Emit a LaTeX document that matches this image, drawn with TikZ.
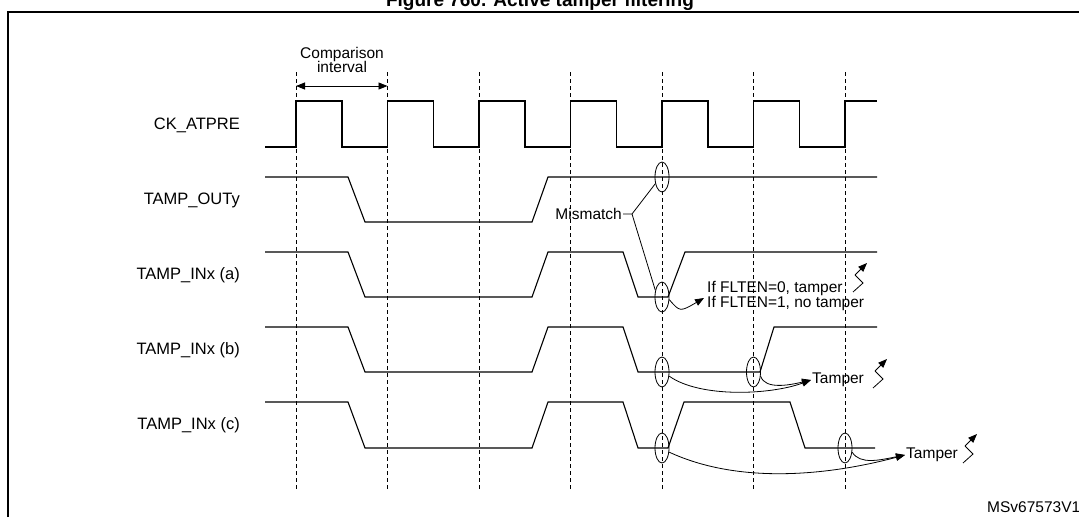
\documentclass[tikz,border=0pt]{standalone}
\usepackage{fontspec}
\setmainfont{Liberation Sans}
\usetikzlibrary{arrows.meta,shapes.geometric}
\begin{document}
\begin{tikzpicture}[x=1pt,y=-1pt,
  sig/.style={line width=1.1pt},
  grid/.style={dashed,line width=0.7pt,dash pattern=on 4pt off 3pt},
  lab/.style={anchor=east,font=\fontsize{16.5}{18}\selectfont,inner sep=0},
  small/.style={font=\fontsize{15.5}{17}\selectfont,inner sep=1pt},
  ell/.style={draw,ellipse,line width=0.8pt,minimum width=14pt,minimum height=30pt,inner sep=0},
  arr/.style={line width=0.8pt,-{Triangle[length=9pt,width=7pt]}},
  zap/.style={line width=0.8pt}]
\useasboundingbox (0,0) rectangle (1079,517);
% frame and title
\node[font=\fontsize{19}{21}\selectfont\bfseries,anchor=base] (title) at (540,6) {Figure 760. Active tamper filtering};
\draw[line width=1.6pt] (8,517) -- (8,12) -- (1079,12);
% grid
\foreach \x in {296,387.5,479,570.5,662,753.5,845}
  \draw[grid] (\x,72) -- (\x,490);
% labels
\node[lab] (l1) at (240,125) {CK\_ATPRE};
\node[lab] (l2) at (240,200) {TAMP\_OUTy};
\node[lab] (l3) at (240,275) {TAMP\_INx (a)};
\node[lab] (l4) at (240,350) {TAMP\_INx (b)};
\node[lab] (l5) at (240,425) {TAMP\_INx (c)};
% comparison interval
\node[small,align=center] (ci) at (342,60) {Comparison\\[-3pt]interval};
\coordinate (c1) at (296,86); \coordinate (c2) at (387.5,86);
\draw[line width=0.8pt,{Triangle[length=9pt,width=7pt]}-{Triangle[length=9pt,width=7pt]}] (c1) -- (c2);
% clock
\draw[sig] (265,147)
 \foreach \x in {296,387.5,479,570.5,662,753.5} { -- (\x,147) -- (\x,101) -- (\x+46,101) -- (\x+46,147) }
 -- (845,147) -- (845,101) -- (877,101);
% TAMP_OUTy
\draw[sig] (265,177) -- (348,177) -- (365,222) -- (532,222) -- (548,177) -- (877,177);
% a
\draw[sig] (265,252) -- (348,252) -- (365,297) -- (532,297) -- (548,252) -- (623,252) -- (638,297) -- (668,297) -- (685,252) -- (877,252);
% b
\draw[sig] (265,327) -- (348,327) -- (365,372) -- (532,372) -- (548,327) -- (623,327) -- (638,372) -- (760,372) -- (774,327) -- (877,327);
% c
\draw[sig] (265,402) -- (348,402) -- (365,448) -- (532,448) -- (548,402) -- (623,402) -- (638,448) -- (668,448) -- (684,402) -- (790,402) -- (805,448) -- (875,448);
% ellipses
\node[ell] (eo) at (662,177) {};
\node[ell] (ea) at (662,297) {};
\node[ell] (eb1) at (662,372) {};
\node[ell] (eb2) at (753.5,372) {};
\node[ell] (ec1) at (662,448) {};
\node[ell] (ec2) at (845,448) {};
% mismatch
\node[small,anchor=east] (mm) at (623,214) {Mismatch};
\coordinate (mj) at (632,214);
\draw[line width=0.8pt] (mm.east) -- (mj) -- (eo.-135);
\draw[line width=0.8pt] (mj) -- (ea.135);
% a result
\node[small,anchor=west,align=left] (ta) at (706,296) {If FLTEN=0, tamper\\[-2pt]If FLTEN=1, no tamper};
\coordinate (taa) at (704,298);
\draw[arr] (ea.-20) .. controls (680,312) .. (taa);
% b result
\node[small,anchor=west] (tb) at (811,380) {Tamper};
\draw[arr] (eb1.-30) .. controls (700,398) and (770,395) .. (tb.west);
\draw[arr] (eb2.-30) .. controls (765,390) and (790,385) .. (tb.west);
% c result
\node[small,anchor=west] (tc) at (905,455) {Tamper};
\draw[arr] (ec1.-30) .. controls (740,485) and (830,475) .. (tc.west);
\draw[arr] (ec2.-30) .. controls (860,465) and (880,460) .. (tc.west);
% lightning symbols
\foreach \px/\py in {853/292, 873/388, 963/463}{
  \draw[zap] (\px,\py) -- (\px+10,\py-9) -- (\px+2,\py-17);
  \draw[zap,-{Triangle[length=9pt,width=7pt]}] (\px+2,\py-17) -- (\px+14,\py-29);
}
\node[small,anchor=base west] (ms) at (986,512) {MSv67573V1};
\end{tikzpicture}
\end{document}
